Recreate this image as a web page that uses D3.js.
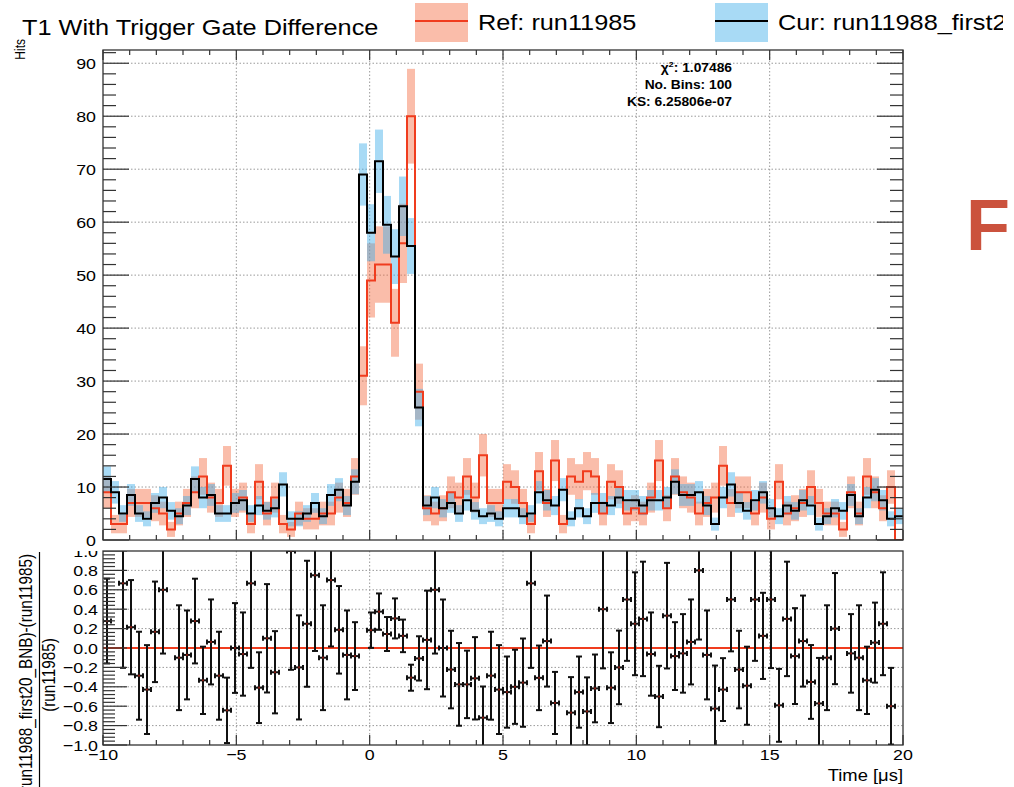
<!DOCTYPE html>
<html><head><meta charset="utf-8">
<script src="https://cdn.jsdelivr.net/npm/d3@7"></script>
<style>
html,body{margin:0;padding:0;background:#fff;}
svg{display:block;font-family:"Liberation Sans",Arial,Helvetica,sans-serif;}
</style></head><body>
<svg id="c" width="1014" height="787"></svg>
<script>
// ---- binning: 100 bins of 0.3 µs from -10 to 20 ----
const xMin = -10, xMax = 20;

// reference run (raw counts per bin)
const refCounts = [
  9, 3, 3, 7, 7, 7, 6, 5, 2, 5,
  7, 9, 12, 8, 7, 14, 7, 8, 3, 11,
  5, 8, 3, 2, 5, 4, 4, 5, 5, 8,
  7, 12, 31, 49, 52, 52, 41, 56, 80, 28,
  6, 5, 6, 9, 8, 12, 8, 16, 7, 7,
  11, 10, 7, 3, 13, 7, 15, 3, 12, 11,
  13, 12, 5, 11, 10, 5, 6, 5, 8, 15,
  6, 12, 9, 8, 5, 7, 8, 14, 7, 9,
  9, 5, 8, 4, 11, 5, 6, 7, 10, 7,
  5, 5, 2, 9, 5, 12, 9, 6, 10, 0
];

// current run (normalised to the reference)
const curCounts = [
  11.5, 9, 5, 8.5, 5, 4, 7, 8, 5.5, 4.5,
  6.5, 11.5, 8, 8.5, 5, 5, 7, 7.5, 5, 6.5,
  5.5, 6, 10.5, 4, 4, 5, 7, 4.5, 8.5, 9.5,
  6.5, 11, 69, 58, 71.5, 59.5, 53.5, 63, 55.5, 25,
  6.5, 8, 6, 7, 5, 7.5, 5.5, 4.5, 5, 4,
  6, 6, 4.5, 5, 9, 7.5, 6.5, 9.5, 4, 6,
  4.5, 7, 7, 6.5, 8, 7.5, 7.5, 6.5, 7.5, 7.5,
  8, 11, 8.5, 8.5, 9, 6.5, 3, 8, 10.5, 7,
  5.5, 7.5, 9, 6, 4.5, 6.5, 5.5, 7.5, 6.5, 3,
  4.5, 6, 5.5, 8.5, 4.5, 8, 9.5, 7.5, 4, 4.5
];
const curScale = 0.5;   // normalisation factor of the current run

const hitTicks = [0, 10, 20, 30, 40, 50, 60, 70, 80, 90];
const timeTicks = [-10, -5, 0, 5, 10, 15, 20];
const ratioTicks = [-1.0, -0.8, -0.6, -0.4, -0.2, 0.0, 0.2, 0.4, 0.6, 0.8, 1.0];
const statLines = [["χ", "2", ": 1.07486"], ["No. Bins: 100"], ["KS: 6.25806e-07"]];
const titleText = "T1 With Trigger Gate Difference";
const refLabel = "Ref: run11985";
const curLabel = "Cur: run11988_first20_BNB";

// ---- layout ----
const SX = 1.15;                     // horizontal stretch of the canvas text
const pTop = {l: 103, r: 903, t: 50, b: 540};
const pBot = {l: 103, r: 903, t: 551, b: 745};
const yMaxTop = 92.5;

const colRef = "#f03c1e", colCur = "#000000";
const bandRef = "#f46d43", bandCur = "#3daee9", bandOpacity = 0.45;
const gridCol = "#9a9a9a";
const tickFont = 15.5;

const nBins = refCounts.length;
const binW = (xMax - xMin) / nBins;
const edges = d3.range(nBins + 1).map(i => xMin + i * binW);

const x = d3.scaleLinear([xMin, xMax], [pTop.l, pTop.r]);
const yT = d3.scaleLinear([0, yMaxTop], [pTop.b, pTop.t]);
const yB = d3.scaleLinear([-1, 1], [pBot.b, pBot.t]);

const svg = d3.select("#c");
const defs = svg.append("defs");
defs.append("clipPath").attr("id", "clipTop").append("rect")
  .attr("x", pTop.l).attr("y", pTop.t).attr("width", pTop.r - pTop.l).attr("height", pTop.b - pTop.t);
defs.append("clipPath").attr("id", "clipBot").append("rect")
  .attr("x", pBot.l).attr("y", pBot.t).attr("width", pBot.r - pBot.l).attr("height", pBot.b - pBot.t);
defs.append("clipPath").attr("id", "clipPage").append("rect")
  .attr("x", 0).attr("y", 0).attr("width", 1003).attr("height", 787);

function txt(g, px, py, s, size, anchor, opt = {}) {
  const t = g.append("text")
    .attr("transform", `translate(${px},${py}) scale(${SX},1)` + (opt.rotate ? ` rotate(${opt.rotate})` : ""))
    .attr("text-anchor", anchor)
    .attr("font-size", size)
    .attr("fill", opt.fill || "#000");
  if (opt.weight) t.attr("font-weight", opt.weight);
  if (s !== null) t.text(s);
  return t;
}

// ================= ratio panel =================
const gb = svg.append("g");
gb.append("g").selectAll("line").data(ratioTicks.filter(v => Math.abs(v) < 1)).join("line")
  .attr("x1", pBot.l).attr("x2", pBot.r).attr("y1", d => yB(d)).attr("y2", d => yB(d))
  .attr("stroke", gridCol).attr("stroke-width", 1).attr("stroke-dasharray", "1.5,2");
gb.append("g").selectAll("line").data(timeTicks.filter(v => v > xMin && v < xMax)).join("line")
  .attr("x1", d => x(d)).attr("x2", d => x(d)).attr("y1", pBot.t).attr("y2", pBot.b)
  .attr("stroke", gridCol).attr("stroke-width", 1).attr("stroke-dasharray", "1.5,2");
gb.append("line").attr("x1", pBot.l).attr("x2", pBot.r).attr("y1", yB(0)).attr("y2", yB(0))
  .attr("stroke", colRef).attr("stroke-width", 2.2);

// (cur - ref) / ref with propagated errors
const ratio = refCounts.map((f, i) => {
  const c = curCounts[i];
  if (f <= 0) return null;
  const num = c - f;
  const sNum2 = curScale * c + f;
  const r = num / f;
  const s = Math.sqrt((sNum2 * f * f + num * num * f) / Math.pow(f, 4));
  return {i, r, s, xc: (edges[i] + edges[i + 1]) / 2};
}).filter(d => d && d.r >= -1 && d.r <= 1);

const gp = gb.append("g").attr("clip-path", "url(#clipBot)")
  .attr("stroke", "#111").attr("stroke-width", 2).attr("fill", "none");
const gm = gb.append("g");
ratio.forEach(d => {
  const cx = x(d.xc), cy = yB(d.r);
  const y1 = yB(d.r + d.s), y2 = yB(d.r - d.s);
  const hx = (x(binW) - x(0)) / 2;
  gp.append("line").attr("x1", cx).attr("x2", cx).attr("y1", y1).attr("y2", y2);
  gp.append("line").attr("x1", cx - 3).attr("x2", cx + 3).attr("y1", y1).attr("y2", y1);
  gp.append("line").attr("x1", cx - 3).attr("x2", cx + 3).attr("y1", y2).attr("y2", y2);
  gp.append("line").attr("x1", cx - hx).attr("x2", cx + hx).attr("y1", cy).attr("y2", cy);
  gp.append("line").attr("x1", cx - hx).attr("x2", cx - hx).attr("y1", cy - 2.5).attr("y2", cy + 2.5);
  gp.append("line").attr("x1", cx + hx).attr("x2", cx + hx).attr("y1", cy - 2.5).attr("y2", cy + 2.5);
  gm.append("circle").attr("cx", cx).attr("cy", cy).attr("r", 1.1).attr("fill", "#8a1a10");
});

const gbt = gb.append("g").attr("stroke", "#333").attr("stroke-width", 1.2);
d3.range(xMin, xMax + 0.001, 1).forEach(v => {
  const major = Math.abs(v % 5) < 1e-6;
  gbt.append("line").attr("x1", x(v)).attr("x2", x(v)).attr("y1", pBot.b).attr("y2", pBot.b - (major ? 10 : 5));
});
d3.range(0, 51).forEach(k => {
  const v = -1 + k * 0.04;
  const major = k % 5 === 0;
  gbt.append("line").attr("x1", pBot.l).attr("x2", pBot.l + (major ? 24 : 12)).attr("y1", yB(v)).attr("y2", yB(v));
});
const fmt1 = d3.format(".1f");
ratioTicks.forEach(v => txt(gb, 98, yB(v) + 5.5, fmt1(v), tickFont, "end"));
timeTicks.forEach(v => txt(gb, x(v), 760, d3.format("d")(v), tickFont, "middle"));
txt(gb, pBot.r, 781, "Time [μs]", 16, "end");

// fraction title of the ratio axis
const fracY = 675;
txt(gb, 32, fracY, "(run11988_first20_BNB)-(run11985)", 15.3, "middle", {rotate: -90});
gb.append("line").attr("x1", 39.5).attr("x2", 39.5).attr("y1", 552).attr("y2", 800)
  .attr("stroke", "#000").attr("stroke-width", 1.2);
txt(gb, 55, fracY, "(run11985)", 15.3, "middle", {rotate: -90});

// ================= main panel =================
svg.append("rect").attr("x", 0).attr("y", 0).attr("width", 1014).attr("height", pBot.t).attr("fill", "#fff");
// ratio frame drawn after the cover so its top edge stays visible
svg.append("rect").attr("x", pBot.l).attr("y", pBot.t).attr("width", pBot.r - pBot.l).attr("height", pBot.b - pBot.t)
  .attr("fill", "none").attr("stroke", "#333").attr("stroke-width", 1.3);
const gt = svg.append("g");

gt.append("g").selectAll("line").data(hitTicks.filter(v => v > 0)).join("line")
  .attr("x1", pTop.l).attr("x2", pTop.r).attr("y1", d => yT(d)).attr("y2", d => yT(d))
  .attr("stroke", gridCol).attr("stroke-width", 1).attr("stroke-dasharray", "1.5,2");
gt.append("g").selectAll("line").data(timeTicks.filter(v => v > xMin && v < xMax)).join("line")
  .attr("x1", d => x(d)).attr("x2", d => x(d)).attr("y1", pTop.t).attr("y2", pTop.b)
  .attr("stroke", gridCol).attr("stroke-width", 1).attr("stroke-dasharray", "1.5,2");

const plot = gt.append("g").attr("clip-path", "url(#clipTop)");
function band(vals, errOf, fill) {
  plot.append("g").selectAll("rect").data(vals.map((v, i) => ({v, i, e: errOf(v)})).filter(d => d.e > 0)).join("rect")
    .attr("x", d => x(edges[d.i])).attr("width", d => x(edges[d.i + 1]) - x(edges[d.i]))
    .attr("y", d => yT(d.v + d.e)).attr("height", d => yT(d.v - d.e) - yT(d.v + d.e))
    .attr("fill", fill).attr("fill-opacity", bandOpacity);
}
band(refCounts, v => Math.sqrt(v), bandRef);
band(curCounts, v => Math.sqrt(curScale * v), bandCur);

const step = d3.line().x(d => x(d[0])).y(d => yT(d[1])).curve(d3.curveStepAfter);
function stepPts(vals) {
  const p = vals.map((v, i) => [edges[i], v]);
  p.push([xMax, vals[vals.length - 1]]);
  return p;
}
plot.append("path").attr("d", step(stepPts(refCounts))).attr("fill", "none")
  .attr("stroke", colRef).attr("stroke-width", 2);
plot.append("path").attr("d", step(stepPts(curCounts))).attr("fill", "none")
  .attr("stroke", colCur).attr("stroke-width", 2);

gt.append("rect").attr("x", pTop.l).attr("y", pTop.t).attr("width", pTop.r - pTop.l).attr("height", pTop.b - pTop.t)
  .attr("fill", "none").attr("stroke", "#333").attr("stroke-width", 1.3);
const gtt = gt.append("g").attr("stroke", "#333").attr("stroke-width", 1.2);
d3.range(xMin, xMax + 0.001, 1).forEach(v => {
  const major = Math.abs(v % 5) < 1e-6, L = major ? 10 : 5;
  gtt.append("line").attr("x1", x(v)).attr("x2", x(v)).attr("y1", pTop.b).attr("y2", pTop.b - L);
  gtt.append("line").attr("x1", x(v)).attr("x2", x(v)).attr("y1", pTop.t).attr("y2", pTop.t + L);
});
d3.range(0, yMaxTop, 2).forEach(v => {
  const major = v % 10 === 0, L = major ? 26 : 13;
  gtt.append("line").attr("x1", pTop.l).attr("x2", pTop.l + L).attr("y1", yT(v)).attr("y2", yT(v));
  gtt.append("line").attr("x1", pTop.r).attr("x2", pTop.r - L).attr("y1", yT(v)).attr("y2", yT(v));
});
hitTicks.forEach(v => txt(gt, 96, yT(v) + 5.5, String(v), tickFont, "end"));
txt(gt, 25, 39, "Hits", 12, "end", {rotate: -90});

// statistics block
statLines.forEach((parts, k) => {
  const t = txt(gt, 732, 72 + k * 17, null, 12, "end", {weight: "bold"});
  if (parts.length === 3) {
    t.append("tspan").text(parts[0]);
    t.append("tspan").attr("font-size", 8).attr("dy", -5).text(parts[1]);
    t.append("tspan").attr("dy", 5).text(parts[2]);
  } else {
    t.text(parts[0]);
  }
});

// title and legend
txt(gt, 22, 35, titleText, 22, "start");
const gl = gt.append("g").attr("clip-path", "url(#clipPage)");
[[415, bandRef, colRef, refLabel], [715, bandCur, colCur, curLabel]].forEach(([lx, bf, lc, lab]) => {
  gl.append("rect").attr("x", lx).attr("y", 3).attr("width", 53).attr("height", 39)
    .attr("fill", bf).attr("fill-opacity", bandOpacity);
  gl.append("line").attr("x1", lx).attr("x2", lx + 53).attr("y1", 21).attr("y2", 21)
    .attr("stroke", lc).attr("stroke-width", 2);
  txt(gl, lx + 63, 30, lab, 22, "start");
});

// slide heading partly visible at the right
svg.append("text").attr("x", 966).attr("y", 250).attr("font-size", 72).attr("font-weight", "bold")
  .attr("fill", "#cb523d").text("Fr");
</script>
</body></html>
